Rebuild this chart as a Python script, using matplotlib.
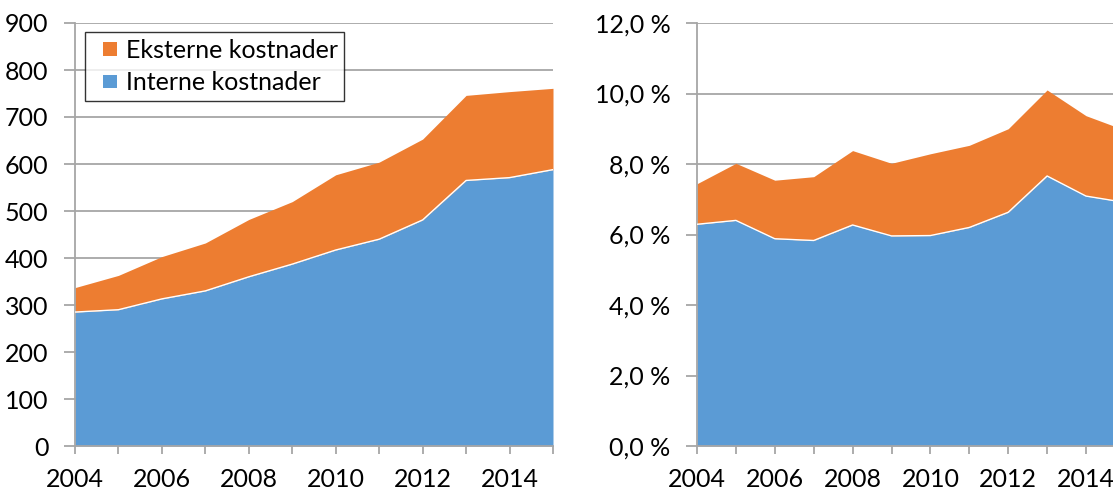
import numpy as np
import matplotlib
matplotlib.use("Agg")
import matplotlib.pyplot as plt
from matplotlib.patches import Patch, Rectangle
from matplotlib.legend_handler import HandlerPatch
from matplotlib.ticker import FuncFormatter, MultipleLocator

plt.rcParams['font.family'] = ['Lato', 'DejaVu Sans']

years = np.arange(2004, 2016)

# left: kostnader (mill. kr)
interne = [285, 290, 313, 330, 360, 387, 417, 440, 481, 565, 571, 588]
eksterne_total = [337, 363, 403, 432, 482, 520, 577, 604, 653, 746, 754, 761]

# right: andel (%)
interne_pct = [6.29, 6.40, 5.88, 5.83, 6.27, 5.96, 5.97, 6.20, 6.63, 7.66, 7.09, 6.91]
total_pct = [7.44, 8.02, 7.54, 7.64, 8.38, 8.02, 8.29, 8.53, 9.00, 10.10, 9.37, 8.96]

labels = ['Eksterne kostnader', 'Interne kostnader']
blue = '#5B9BD5'
orange = '#ED7D31'
grid_c = '#A6A6A6'

W, H = 1113, 490
fig = plt.figure(figsize=(W / 100, H / 100), dpi=100)

ax1 = fig.add_axes([75 / W, 1 - 446 / H, (553 - 75) / W, (446 - 23) / H])
ax2 = fig.add_axes([697 / W, 1 - 446 / H, (11 * 38.9) / W, (446 - 23) / H])


def style(ax):
    ax.set_xlim(2004, 2015)
    for s in ['top', 'right']:
        ax.spines[s].set_visible(False)
    for s in ['left', 'bottom']:
        ax.spines[s].set_color(grid_c)
        ax.spines[s].set_linewidth(1.3)
    ax.grid(axis='y', color=grid_c, linewidth=1.3)
    ax.set_axisbelow(True)
    ax.set_xticks(years)
    ax.set_xticklabels([str(y) if y % 2 == 0 else '' for y in years])
    ax.tick_params(axis='x', length=6, width=1.3, color=grid_c, pad=10, labelsize=18)
    ax.tick_params(axis='y', length=8, width=1.3, color=grid_c, pad=11, labelsize=18)


ax1.fill_between(years, 0, interne, color=blue, lw=0, zorder=2)
ax1.fill_between(years, interne, eksterne_total, color=orange, lw=0, zorder=2)
ax1.plot(years, interne, color='white', lw=1.0, zorder=3)
ax1.set_ylim(0, 900)
ax1.yaxis.set_major_locator(MultipleLocator(100))
style(ax1)

ax2.fill_between(years, 0, interne_pct, color=blue, lw=0, zorder=2)
ax2.fill_between(years, interne_pct, total_pct, color=orange, lw=0, zorder=2)
ax2.plot(years, interne_pct, color='white', lw=1.0, zorder=3)
ax2.set_ylim(0, 12)
ax2.yaxis.set_major_locator(MultipleLocator(2))
ax2.yaxis.set_major_formatter(FuncFormatter(lambda v, p: f'{v:.1f} %'.replace('.', ',')))
style(ax2)


def small_square(legend, orig_handle, xdescent, ydescent, width, height, fontsize):
    s = 0.55 * fontsize
    return Rectangle((-xdescent + width - s, -ydescent + (height - s) / 2), s, s)


handles = [Patch(facecolor=orange), Patch(facecolor=blue)]
leg = fig.legend(handles, labels, loc='upper left', bbox_to_anchor=(85 / W, 1 - 32 / H),
                 bbox_transform=fig.transFigure, fontsize=18, frameon=True, fancybox=False,
                 edgecolor='black', borderaxespad=0, handlelength=1.0, handleheight=0.7,
                 handletextpad=0.35, labelspacing=0.38, borderpad=0.27,
                 handler_map={Patch: HandlerPatch(patch_func=small_square)})
leg.get_frame().set_linewidth(1.0)

fig.savefig('out.png', dpi=100)
